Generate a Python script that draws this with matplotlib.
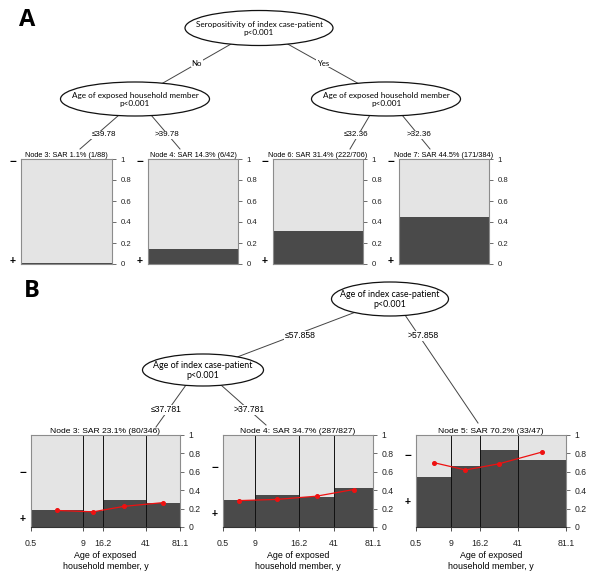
"""Conditional inference trees for household SAR (panels A and B)."""

import matplotlib.pyplot as plt
from matplotlib.patches import Ellipse

W, H = 600, 587
LIGHT = "#e4e4e4"
DARK = "#4a4a4a"
BORDER = "#8c8c8c"
TREE_FONT = ["Lato", "DejaVu Sans"]
AXIS_FONT = ["Liberation Sans", "DejaVu Sans"]

plt.rcParams.update(
    {
        "font.family": AXIS_FONT,
        "font.size": 6,
        "axes.linewidth": 0.8,
        "xtick.major.size": 3,
        "ytick.major.size": 3,
        "xtick.major.width": 0.6,
        "ytick.major.width": 0.6,
        "xtick.color": "#222222",
        "ytick.color": "#222222",
    }
)

# ---- panel A data
a_root_text = "Seropositivity of index case-patient\np<0.001"
a_split_text = "Age of exposed household member\np<0.001"
a_edge_labels = ["No", "Yes"]
a_leaf_labels = ["\u226439.78", ">39.78", "\u226432.36", ">32.36"]
a_nodes = ["Node 3", "Node 4", "Node 6", "Node 7"]
a_pos = [1, 6, 222, 171]
a_tot = [88, 42, 706, 384]

# ---- panel B data
b_root_text = "Age of index case-patient\np<0.001"
b_split_text = "Age of index case-patient\np<0.001"
b_edge_labels = ["\u226457.858", ">57.858"]
b_leaf_labels = ["\u226437.781", ">37.781"]
b_nodes = ["Node 3", "Node 4", "Node 5"]
b_breaks = ["0.5", "9", "16.2", "41", "81.1"]
b_bin_tot = [
    [121, 46, 100, 79],
    [176, 243, 193, 215],
    [11, 9, 12, 15],
]
b_bin_pos = [
    [22, 8, 29, 21],
    [51, 84, 62, 90],
    [6, 6, 10, 11],
]
b_smooth = [
    [0.18, 0.165, 0.225, 0.265],
    [0.287, 0.30, 0.335, 0.407],
    [0.70, 0.62, 0.687, 0.815],
]
b_xlabel = "Age of exposed\nhousehold member, y"


def px_axes(fig, x0, y0, x1, y1):
    """Add an axes given pixel box (top-left origin)."""
    return fig.add_axes([x0 / W, 1 - y1 / H, (x1 - x0) / W, (y1 - y0) / H])


def sar_title(name, pos, tot):
    return f"{name}: SAR {100 * pos / tot:.1f}% ({pos}/{tot})"


def style_box(ax, tick_size):
    ax.set_xlim(0, 1)
    ax.set_ylim(0, 1)
    for side in ("left", "top", "bottom", "right"):
        ax.spines[side].set_color(BORDER)
        ax.spines[side].set_linewidth(0.8)
    ax.yaxis.tick_right()
    ax.set_yticks([0, 0.2, 0.4, 0.6, 0.8, 1])
    ax.set_yticklabels(["0", "0.2", "0.4", "0.6", "0.8", "1"])
    ax.tick_params(axis="y", labelsize=tick_size, pad=3, color="#555555")


def sign_labels(ax, width_px, y_minus, y_plus, size=8.5):
    dx = -8 / width_px
    ax.text(dx, y_minus, "\u2212", transform=ax.transAxes, ha="center", va="center",
            fontsize=size, fontweight="bold")
    ax.text(dx, y_plus, "+", transform=ax.transAxes, ha="center", va="center",
            fontsize=size - 1, fontweight="bold")


def ellipse(ax, cx, cy, w, h, text, size):
    ax.add_patch(Ellipse((cx, cy), w, h, facecolor="white", edgecolor="#111111",
                         linewidth=0.9, zorder=3))
    ax.text(cx, cy + 0.5, text, ha="center", va="center", fontsize=size,
            family=TREE_FONT, linespacing=1.15, zorder=4)


def edge(ax, p0, p1, label=None, at=None, size=6.2, family=None):
    ax.plot([p0[0], p1[0]], [p0[1], p1[1]], color="#444444", linewidth=0.7, zorder=1)
    if label:
        ax.text(at[0], at[1], label, ha="center", va="center", fontsize=size,
                family=family or AXIS_FONT, zorder=2,
                bbox=dict(boxstyle="square,pad=0.1", facecolor="white", edgecolor="none"))


fig = plt.figure(figsize=(6, 5.87), dpi=100)
tree = fig.add_axes([0, 0, 1, 1])
tree.set_xlim(0, W)
tree.set_ylim(H, 0)
tree.axis("off")

# ---------------- panel A tree
tree.text(19, 20, "A", fontsize=17, fontweight="bold", family=["Open Sans", "DejaVu Sans"],
          ha="left", va="center")
ellipse(tree, 259, 28, 148, 35, a_root_text, 5.9)
ellipse(tree, 135, 99, 149, 34, a_split_text, 5.9)
ellipse(tree, 386, 99, 149, 34, a_split_text, 5.9)
edge(tree, (259, 28), (135, 99), a_edge_labels[0], (197, 63), size=5.6, family=TREE_FONT)
edge(tree, (259, 28), (386, 99), a_edge_labels[1], (323, 63), size=5.6, family=TREE_FONT)
edge(tree, (119, 115), (80, 149), a_leaf_labels[0], (104, 135), size=5.8)
edge(tree, (151, 115), (180, 149), a_leaf_labels[1], (167, 135), size=5.8)
edge(tree, (370, 115), (350, 149), a_leaf_labels[2], (356, 135), size=5.8)
edge(tree, (402, 115), (430, 149), a_leaf_labels[3], (419, 135), size=5.8)

# ---------------- panel A leaves
a_boxes = [(21, 112), (148, 238), (273, 363), (399, 489)]
for (x0, x1), name, pos, tot in zip(a_boxes, a_nodes, a_pos, a_tot):
    ax = px_axes(fig, x0, 159, x1, 264)
    ax.bar([0], [1], width=1, align="edge", color=LIGHT, linewidth=0)
    ax.bar([0], [pos / tot], width=1, align="edge", color=DARK, linewidth=0)
    style_box(ax, 5.6)
    ax.set_xticks([])
    ax.set_title(sar_title(name, pos, tot), fontsize=5.3, pad=1.5)
    sign_labels(ax, x1 - x0, 0.97, 0.03)

# ---------------- panel B tree
tree.text(24, 291, "B", fontsize=17, fontweight="bold", family=["Open Sans", "DejaVu Sans"],
          ha="left", va="center")
ellipse(tree, 390, 299, 117, 34, b_root_text, 6.4)
ellipse(tree, 203, 370, 121, 32, b_split_text, 6.4)
edge(tree, (390, 299), (203, 370), b_edge_labels[0], (300, 336))
edge(tree, (405, 315), (478, 423), b_edge_labels[1], (423, 336))
edge(tree, (186, 385), (156, 427), b_leaf_labels[0], (166, 410))
edge(tree, (221, 385), (266, 425), b_leaf_labels[1], (249, 410))

# ---------------- panel B leaves
b_boxes = [(31, 180), (223, 373), (416, 566)]
for (x0, x1), name, tots, poss, smooth in zip(b_boxes, b_nodes, b_bin_tot, b_bin_pos, b_smooth):
    ax = px_axes(fig, x0, 435, x1, 527)
    n = sum(tots)
    widths = [t / n for t in tots]
    lefts = [sum(widths[:i]) for i in range(len(widths))]
    fracs = [p / t for p, t in zip(poss, tots)]
    ax.bar(lefts, [1] * len(widths), width=widths, align="edge", color=LIGHT, linewidth=0)
    ax.bar(lefts, fracs, width=widths, align="edge", color=DARK, linewidth=0)
    edges_x = lefts + [1]
    ax.vlines(edges_x[1:-1], 0, 1, color="#111111", linewidth=0.7)
    centers = [l + w / 2 for l, w in zip(lefts, widths)]
    ax.plot(centers, smooth, color="#ee1111", linewidth=0.9, marker="o", markersize=2.6)
    style_box(ax, 6.2)
    ax.set_xticks(edges_x)
    ax.set_xticklabels(b_breaks)
    ax.tick_params(axis="x", labelsize=6.3, pad=6, color="#333333")
    ax.spines["bottom"].set_color("#333333")
    ax.set_title(sar_title(name, sum(poss), n), fontsize=6.1, pad=1.5)
    ax.set_xlabel(b_xlabel, fontsize=6.4, labelpad=2, linespacing=1.2)
    sign_labels(ax, x1 - x0, (1 + fracs[0]) / 2, fracs[0] / 2)

fig.savefig("out.png", dpi=100, facecolor="white")
